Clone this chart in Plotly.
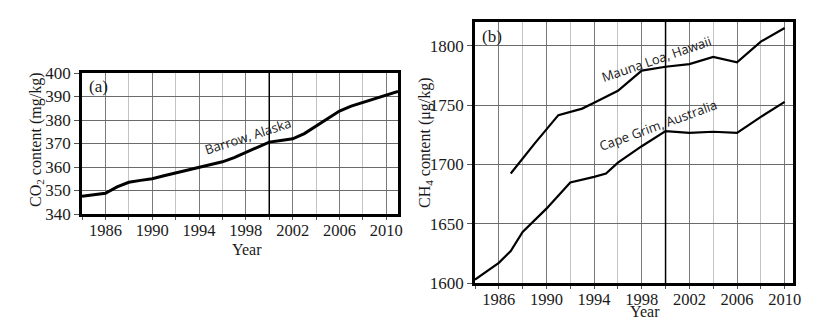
import plotly.graph_objects as go

# ---- data ----
co2_years = [1984, 1985, 1986, 1987, 1988, 1989, 1990, 1991, 1992, 1993, 1994, 1995,
             1996, 1997, 1998, 1999, 2000, 2001, 2002, 2003, 2004, 2005, 2006, 2007,
             2008, 2009, 2010, 2011]
co2_barrow = [347.5, 348.0, 348.8, 351.5, 353.5, 354.3, 355.0, 356.3, 357.5, 358.6, 360.0, 361.3,
              362.2, 364.0, 366.3, 368.6, 370.6, 371.3, 372.0, 374.2, 377.5, 380.8, 383.8, 385.9,
              387.4, 389.0, 390.5, 392.2]

ml_years = [1987, 1989, 1991, 1993, 1994, 1996, 1998, 2000, 2002, 2004, 2006, 2008, 2010]
ch4_mauna_loa = [1692.3, 1717.5, 1741.5, 1747.0, 1752.0, 1762.0, 1779.0, 1782.3, 1784.5,
                 1790.5, 1786.0, 1803.5, 1815.0]

cg_years = [1984, 1986, 1987, 1988, 1990, 1992, 1994, 1995, 1996, 1998, 2000, 2002, 2004,
            2006, 2008, 2010]
ch4_cape_grim = [1602.8, 1617.0, 1627.0, 1643.0, 1662.7, 1684.7, 1689.5, 1692.3, 1701.5,
                 1715.3, 1728.0, 1726.5, 1727.5, 1726.5, 1740.0, 1752.7]

co2_range = [340, 400]
co2_ticks = [340, 350, 360, 370, 380, 390, 400]
ch4_range = [1600, 1820]
ch4_ticks = [1600, 1650, 1700, 1750, 1800]
year_ticks = [1986, 1990, 1994, 1998, 2002, 2006, 2010]
ref_year = 2000

labels_a = [("Barrow, Alaska", 1998.2, 373.2, -18)]
labels_b = [("Mauna Loa, Hawaii", 1999.2, 1789.0, -19),
            ("Cape Grim, Australia", 1999.4, 1733.0, -20)]

x_title = "Year"
y_title_a = "CO<sub>2</sub> content (mg/kg)"
y_title_b = "CH<sub>4</sub> content (μg/kg)"

SERIF = "Liberation Serif"
SANS = "Open Sans"
INK = "#1a1a1a"

fig = go.Figure()
fig.add_trace(go.Scatter(x=co2_years, y=co2_barrow, mode="lines",
                         line=dict(color="black", width=3), xaxis="x", yaxis="y",
                         showlegend=False))
fig.add_trace(go.Scatter(x=ml_years, y=ch4_mauna_loa, mode="lines",
                         line=dict(color="black", width=2.2), xaxis="x2", yaxis="y2",
                         showlegend=False))
fig.add_trace(go.Scatter(x=cg_years, y=ch4_cape_grim, mode="lines",
                         line=dict(color="black", width=2.2), xaxis="x2", yaxis="y2",
                         showlegend=False))

W, H = 836, 324

def xax(dom, rng):
    return dict(domain=dom, range=rng, tickvals=year_ticks, showgrid=True,
                gridcolor="#7a7a7a", gridwidth=1, automargin=False,
                minor=dict(dtick=2, tick0=1984, showgrid=True, gridcolor="#c4c4c4",
                           ticks="outside", ticklen=3, tickcolor="#555"),
                ticks="outside", ticklen=3, tickcolor="#555", ticklabelstandoff=-4,
                showline=True, linecolor="black", linewidth=2.5, mirror=True,
                tickfont=dict(family=SERIF, size=16.5, color=INK),
                zeroline=False, fixedrange=True)

def yax(dom, rng, ticks, anchor):
    return dict(domain=dom, range=rng, tickvals=ticks, showgrid=True,
                gridcolor="#6a6a6a", gridwidth=1, automargin=False,
                ticks="outside", ticklen=5, tickcolor="#555",
                showline=True, linecolor="black", linewidth=2.5, mirror=True,
                tickfont=dict(family=SERIF, size=17, color=INK),
                anchor=anchor, zeroline=False, fixedrange=True)

fig.update_layout(
    width=W, height=H, margin=dict(l=0, r=0, t=0, b=0, autoexpand=False),
    paper_bgcolor="white", plot_bgcolor="white",
    xaxis=dict(xax([82 / W, 398 / W], [1984, 2011]), anchor="y"),
    yaxis=yax([1 - 214 / H, 1 - 73 / H], co2_range, co2_ticks, "x"),
    xaxis2=dict(xax([475 / W, 793 / W], [1984, 2010.7]), anchor="y2"),
    yaxis2=yax([1 - 283 / H, 1 - 22 / H], ch4_range, ch4_ticks, "x2"),
)

for xr, yr in (("x", "y domain"), ("x2", "y2 domain")):
    fig.add_shape(type="line", x0=ref_year, x1=ref_year, y0=0, y1=1, xref=xr, yref=yr,
                  line=dict(color="black", width=1.5), layer="above")

# axis titles
title_font = dict(family=SERIF, size=16, color=INK)
for txt, px, py, ang in ((x_title, 247, 249, 0), (x_title, 645, 311, 0),
                         (y_title_a, 37, 140, -90), (y_title_b, 425, 143, -90)):
    fig.add_annotation(text=txt, x=px / W, y=1 - py / H, xref="paper", yref="paper",
                       xanchor="center", yanchor="middle", showarrow=False,
                       textangle=ang, font=title_font)

for txt, x, y, ang in labels_a:
    fig.add_annotation(text=txt, x=x, y=y, xref="x", yref="y", showarrow=False,
                       textangle=ang, font=dict(family=SANS, size=13, color=INK))
for txt, x, y, ang in labels_b:
    fig.add_annotation(text=txt, x=x, y=y, xref="x2", yref="y2", showarrow=False,
                       textangle=ang, font=dict(family=SANS, size=13, color=INK))

fig.add_annotation(text="(a)", x=0.015, y=0.985, xref="x domain", yref="y domain",
                   xanchor="left", yanchor="top", showarrow=False,
                   font=dict(family=SERIF, size=17, color=INK))
fig.add_annotation(text="(b)", x=0.015, y=0.99, xref="x2 domain", yref="y2 domain",
                   xanchor="left", yanchor="top", showarrow=False,
                   font=dict(family=SERIF, size=17, color=INK))

fig.write_html("out.html")
